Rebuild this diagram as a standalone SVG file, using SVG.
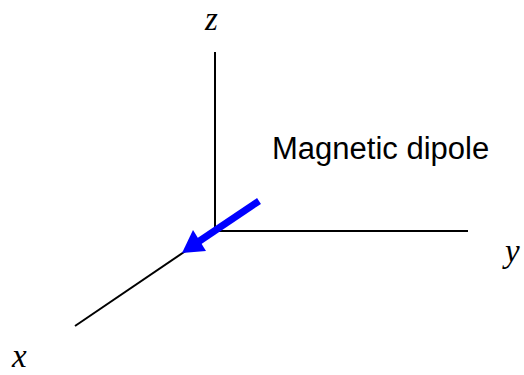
<svg xmlns="http://www.w3.org/2000/svg" width="524" height="375" viewBox="0 0 524 375">
<style>
.axis{stroke:#000;stroke-width:2;fill:none}
.lbl{font-family:"Liberation Serif",serif;font-style:italic;font-size:33px;fill:#000}
.txt{font-family:"Liberation Sans",Arial,sans-serif;font-size:31px;fill:#000}
</style>
<g id="connectors">
<line class="axis" x1="215" y1="52" x2="215" y2="231"/>
<line class="axis" x1="215" y1="231" x2="468" y2="231"/>
<line class="axis" x1="215" y1="231" x2="75" y2="326"/>
</g>
<g id="dipole">
<line x1="259" y1="201" x2="198" y2="242" stroke="#0000ff" stroke-width="7"/>
<polygon points="182,253 193,230 206,251" fill="#0000ff"/>
</g>
<g id="label-z"><text class="lbl" x="205" y="30">z</text></g>
<g id="label-y"><text class="lbl" x="505" y="262">y</text></g>
<g id="label-x"><text class="lbl" x="12" y="367">x</text></g>
<g id="label-dipole"><text class="txt" x="272" y="159">Magnetic dipole</text></g>
</svg>
